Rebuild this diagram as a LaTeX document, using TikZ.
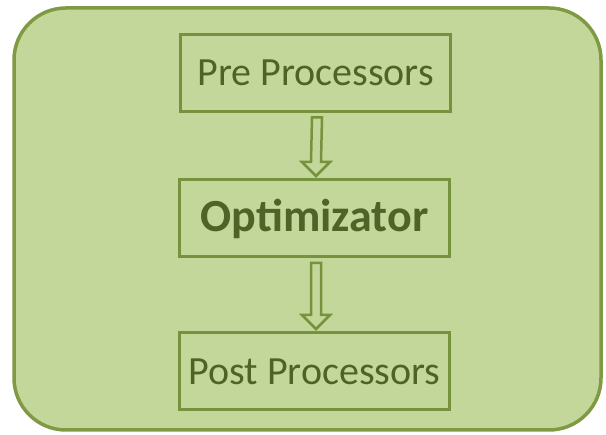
\documentclass[tikz,border=0pt]{standalone}
\usepackage{fontspec}
\setmainfont{Carlito}
\usetikzlibrary{calc}
\definecolor{bgfill}{HTML}{C4D79B}
\definecolor{outerline}{HTML}{7F9A42}
\definecolor{boxline}{HTML}{76923C}
\definecolor{txt}{HTML}{4F6228}
\tikzset{
  procbox/.style={draw=boxline, line width=3pt, fill=bgfill, text=txt, minimum width=270pt, minimum height=77pt, inner sep=0pt, outer sep=0pt, font=\fontsize{40}{46}\selectfont},
  blockarrow/.style={draw=boxline, line width=2.5pt, fill=bgfill, line join=miter}
}
\begin{document}
\begin{tikzpicture}[x=1pt,y=-1pt]
\useasboundingbox (0,0) rectangle (606,435);
\fill[white] (0,0) rectangle (606,435);
\draw[outerline, line width=3.5pt, fill=bgfill, rounded corners=52pt] (14,8) rectangle (601,430);
\node[procbox] (pre) at (315.5,73) {Pre Processors};
\node[procbox, font=\fontsize{46}{52}\selectfont\bfseries] (opt) at (314.5,218.5) {Optimizator};
\node[procbox] (post) at (314.5,371.5) {Post Processors};
\foreach \a/\b in {pre/opt, opt/post}{
  \draw[blockarrow] ($(\a.south)+(-3.5,6)$) -- ($(\b.north)+(-3.5,-18)$) -- ($(\b.north)+(-12.5,-18)$)
    -- ($(\b.north)+(1.5,-4)$) -- ($(\b.north)+(15.5,-18)$) -- ($(\b.north)+(6.5,-18)$)
    -- ($(\a.south)+(6.5,6)$) -- cycle;
}
\end{tikzpicture}
\end{document}
